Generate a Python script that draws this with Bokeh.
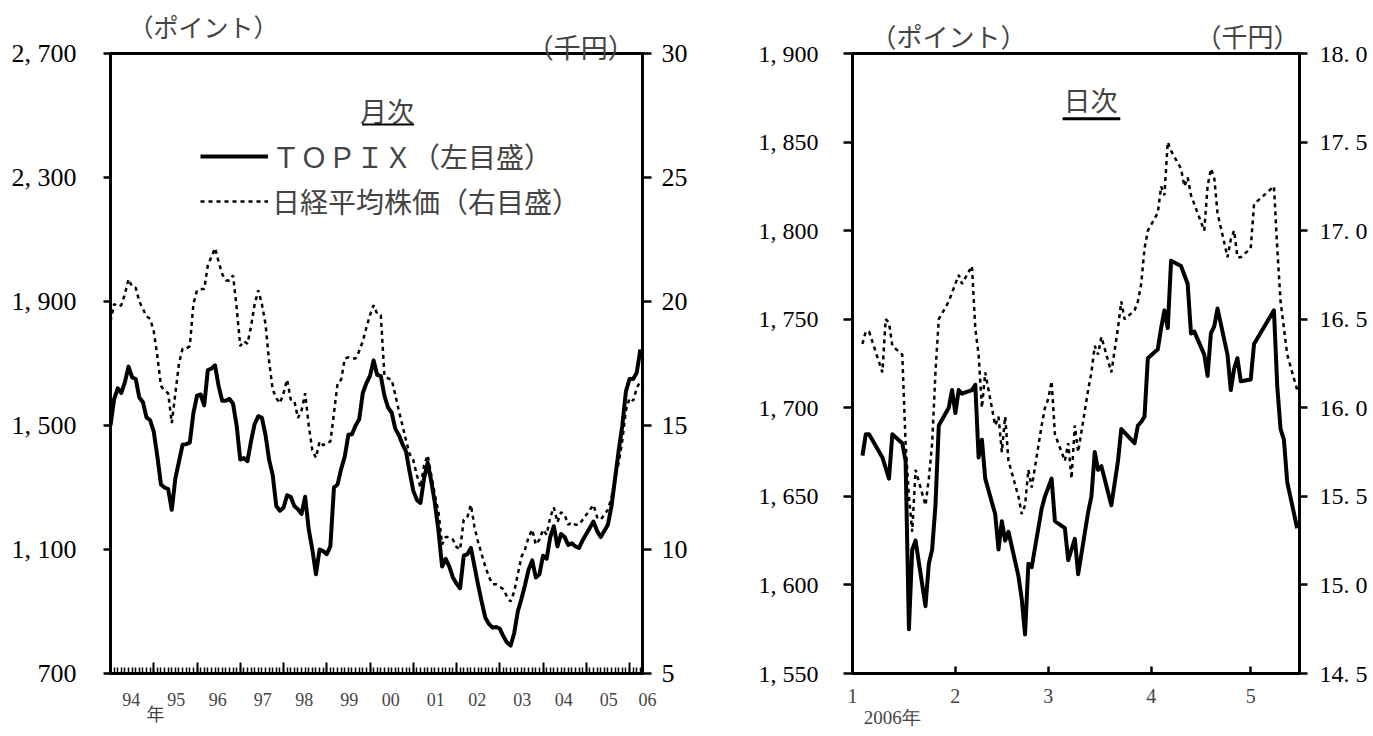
import datetime as dt
from bokeh.plotting import figure
from bokeh.models import (Range1d, LinearAxis, FixedTicker, Legend, LegendItem,
                          BoxAnnotation, ColumnDataSource, Label)
from bokeh.layouts import row
from bokeh.embed import file_html
from bokeh.resources import INLINE

# ---------------- data: monthly (Jan 1994 .. Apr 2006) ----------------
start_year = 1994
topix_monthly = [
    1500, 1585, 1620, 1605, 1640, 1690, 1655, 1650, 1590, 1575, 1526, 1517,
    1480, 1400, 1310, 1300, 1295, 1228, 1330, 1384, 1438, 1440, 1445, 1540,
    1596, 1600, 1565, 1678, 1684, 1694, 1627, 1580, 1580, 1586, 1570, 1500,
    1390, 1395, 1385, 1450, 1505, 1530, 1525, 1470, 1390, 1340, 1240, 1225,
    1235, 1275, 1270, 1240, 1230, 1215, 1270, 1165, 1100, 1020, 1100, 1095,
    1085, 1110, 1300, 1310, 1360, 1400, 1470, 1472, 1500, 1520, 1605, 1637,
    1660, 1710, 1663, 1659, 1596, 1558, 1542, 1490, 1469, 1440, 1416, 1350,
    1290, 1260, 1250, 1330, 1380, 1320, 1250, 1160, 1045, 1070, 1045, 1010,
    990, 975, 1080, 1085, 1105, 1045, 985, 930, 880, 860, 848, 850,
    845, 820, 800, 790, 830, 900, 940, 985, 1035, 1065, 1010, 1020,
    1080, 1070, 1140, 1175, 1110, 1150, 1140, 1115, 1120, 1110, 1105, 1130,
    1150, 1170, 1190, 1160, 1140, 1160, 1180, 1240, 1330, 1420, 1500, 1610,
    1650, 1650, 1670, 1745,
]
nikkei_monthly = [
    19.2, 19.9, 19.8, 19.85, 20.3, 20.9, 20.6, 20.55, 20.0, 19.7, 19.4, 19.3,
    18.8, 17.8, 16.6, 16.4, 16.3, 15.1, 16.3, 17.5, 18.1, 18.1, 18.2, 19.9,
    20.45, 20.5, 20.5, 21.45, 21.8, 22.15, 21.6, 21.1, 20.85, 20.85, 21.05, 19.75,
    18.2, 18.4, 18.3, 19.0, 19.9, 20.45, 19.9, 19.1, 17.6, 16.45, 16.1, 15.9,
    16.3, 16.85, 16.05, 16.0, 15.3, 15.6, 16.3, 15.0, 14.0, 13.7, 14.35, 14.2,
    14.3, 14.35, 15.5, 16.7, 16.85, 17.7, 17.75, 17.7, 17.7, 18.0, 18.4, 18.95,
    19.45, 19.85, 19.5, 19.45, 17.0, 16.9, 16.85, 16.25, 15.6, 15.0, 14.4, 13.85,
    13.6, 13.0, 12.5, 13.4, 13.8, 13.0, 12.2, 11.5, 10.2, 10.5, 10.5, 10.4,
    10.1, 10.0, 11.2, 11.3, 11.8, 10.9, 10.3, 9.8, 9.3, 8.9, 8.6, 8.6,
    8.5, 8.4, 8.1, 7.9, 8.3, 9.0, 9.7, 10.0, 10.5, 10.8, 10.2, 10.4,
    10.8, 10.6, 11.3, 11.7, 11.1, 11.5, 11.4, 11.0, 11.1, 11.0, 11.0, 11.2,
    11.4, 11.6, 11.8, 11.3, 11.2, 11.4, 11.6, 12.1, 12.9, 13.5, 14.4, 15.6,
    16.1, 16.0, 16.5, 16.8,
]
year_labels = ["94", "95", "96", "97", "98", "99", "00", "01", "02", "03", "04", "05", "06"]
left_ticks = [700, 1100, 1500, 1900, 2300, 2700]
left_tick_labels = ["700", "1, 100", "1, 500", "1, 900", "2, 300", "2, 700"]
right_ticks = [5, 10, 15, 20, 25, 30]

# ---------------- data: daily 2006 ----------------
daily_dates = [
    "01-04", "01-05", "01-06", "01-10", "01-11", "01-12", "01-13", "01-16", "01-17", "01-18",
    "01-19", "01-20", "01-23", "01-24", "01-25", "01-26", "01-27", "01-30", "01-31",
    "02-01", "02-02", "02-03", "02-06", "02-07", "02-08", "02-09", "02-10", "02-13", "02-14",
    "02-15", "02-16", "02-17", "02-20", "02-21", "02-22", "02-23", "02-24", "02-27", "02-28",
    "03-01", "03-02", "03-03", "03-06", "03-07", "03-08", "03-09", "03-10", "03-13", "03-14",
    "03-15", "03-16", "03-17", "03-20", "03-22", "03-23", "03-24", "03-27", "03-28", "03-29",
    "03-30", "03-31",
    "04-03", "04-04", "04-05", "04-06", "04-07", "04-10", "04-11", "04-12", "04-13", "04-14",
    "04-17", "04-18", "04-19", "04-20", "04-21", "04-24", "04-25", "04-26", "04-27", "04-28",
    "05-01", "05-02", "05-08", "05-09", "05-10", "05-11", "05-12", "05-15",
]
topix_daily = [
    1673, 1685, 1685, 1672, 1666, 1660, 1685, 1680, 1670, 1575,
    1620, 1625, 1588, 1612, 1620, 1645, 1690, 1700, 1710,
    1697, 1710, 1708, 1710, 1713, 1672, 1682, 1660, 1640, 1620,
    1636, 1625, 1630, 1605, 1592, 1572, 1612, 1610, 1643, 1650,
    1655, 1660, 1636, 1632, 1614, 1620, 1626, 1606, 1641, 1650,
    1675, 1665, 1667, 1645, 1670, 1688, 1686, 1680, 1690, 1692,
    1695, 1728,
    1733, 1745, 1755, 1745, 1783, 1780, 1775, 1770, 1742, 1743,
    1730, 1718, 1742, 1746, 1756, 1730, 1710, 1722, 1728, 1715,
    1716, 1736, 1755, 1712, 1688, 1682, 1658, 1632,
]
nikkei_daily = [
    16.36, 16.43, 16.43, 16.2, 16.5, 16.48, 16.35, 16.3, 15.8, 15.5,
    15.3, 15.65, 15.45, 15.6, 15.8, 16.2, 16.5, 16.6, 16.65,
    16.7, 16.75, 16.7, 16.8, 16.45, 16.3, 16.0, 16.2, 15.9, 15.95,
    15.75, 15.95, 15.7, 15.5, 15.4, 15.45, 15.65, 15.55, 15.9, 16.0,
    16.05, 16.15, 15.85, 15.7, 15.8, 15.6, 15.9, 15.75, 16.1, 16.2,
    16.35, 16.3, 16.4, 16.2, 16.45, 16.6, 16.5, 16.55, 16.6, 16.7,
    16.9, 17.0,
    17.1, 17.25, 17.2, 17.5, 17.45, 17.35, 17.25, 17.3, 17.2, 17.15,
    17.0, 17.25, 17.35, 17.3, 17.1, 16.85, 16.95, 17.0, 16.85, 16.85,
    16.9, 17.15, 17.25, 16.9, 16.6, 16.45, 16.3, 16.1,
]
month_tick_labels = ["1", "2", "3", "4", "5"]
d_left_ticks = [1550, 1600, 1650, 1700, 1750, 1800, 1850, 1900]
d_left_labels = ["1, 550", "1, 600", "1, 650", "1, 700", "1, 750", "1, 800", "1, 850", "1, 900"]
d_right_ticks = [14.5, 15.0, 15.5, 16.0, 16.5, 17.0, 17.5, 18.0]
d_right_labels = ["14. 5", "15. 0", "15. 5", "16. 0", "16. 5", "17. 0", "17. 5", "18. 0"]

SERIF = "Liberation Serif"
JP = "Noto Sans CJK JP"
FS = "\u2007"  # figure space (keeps label spacing in SVG)


def text_axis(ticks, labels, font, size, standoff, **kw):
    """An axis that only carries texts (no line, no ticks)."""
    ax = LinearAxis(ticker=FixedTicker(ticks=ticks),
                    major_label_overrides={t: s for t, s in zip(ticks, labels)}, **kw)
    ax.axis_line_color = None
    ax.major_tick_line_color = None
    ax.minor_tick_line_color = None
    ax.major_tick_in = 0
    ax.major_tick_out = 0
    ax.major_label_text_font = font
    ax.major_label_text_font_size = size
    ax.major_label_standoff = standoff
    return ax


def style_y(ax, size, out, standoff):
    ax.axis_line_width = 3
    ax.major_tick_line_width = 2.5
    ax.major_tick_in = 0
    ax.major_tick_out = out
    ax.minor_tick_line_color = None
    ax.major_label_text_font = SERIF
    ax.major_label_text_font_size = size
    ax.major_label_text_color = "black"
    ax.major_label_standoff = standoff


# ======================= LEFT: monthly =======================
n = len(topix_monthly)
mx = list(range(n))
src_m = ColumnDataSource(dict(x=mx, topix=topix_monthly, nikkei=nikkei_monthly))

p1 = figure(width=690, height=736, output_backend="svg", toolbar_location=None,
            x_range=Range1d(0, n - 0.4), y_range=Range1d(700, 2700),
            x_axis_type=None, y_axis_type=None,
            min_border_left=110, min_border_right=47, min_border_top=53, min_border_bottom=49)
p1.extra_y_ranges = {"nk": Range1d(5, 30)}
p1.grid.visible = False
p1.outline_line_color = "black"
p1.outline_line_width = 3
p1.background_fill_color = "white"
p1.border_fill_color = "white"

yl = LinearAxis(ticker=FixedTicker(ticks=left_ticks),
                major_label_overrides={t: s for t, s in zip(left_ticks, left_tick_labels)})
style_y(yl, "26px", 7, 27)
p1.add_layout(yl, "left")

yr = LinearAxis(y_range_name="nk", ticker=FixedTicker(ticks=right_ticks))
style_y(yr, "26px", 9, 10)
p1.add_layout(yr, "right")

# bottom axis: year boundaries (major, with paired year labels) + monthly minor ticks
year_ticks = [12 * k for k in range(1, (n - 1) // 12 + 1)]
year_lab = {t: "" for t in year_ticks}
for k in range(0, len(year_labels) - 1, 2):
    year_lab[12 * (k + 1)] = year_labels[k] + FS * 3 + year_labels[k + 1]
year_lab[12 * (len(year_labels) - 1)] = FS * 4 + year_labels[-1]
xa = LinearAxis(ticker=FixedTicker(ticks=year_ticks, minor_ticks=list(range(1, n))),
                major_label_overrides=year_lab)
xa.axis_line_width = 3
xa.major_tick_in = 11
xa.major_tick_out = 0
xa.major_tick_line_width = 2
xa.minor_tick_in = 6
xa.minor_tick_out = 0
xa.minor_tick_line_width = 1.5
xa.major_label_text_font = SERIF
xa.major_label_text_font_size = "18px"
xa.major_label_standoff = 16
p1.add_layout(xa, "below")
p1.add_layout(text_axis([12.5], ["年"], JP, "18px", -13), "below")

# unit captions above the frame
p1.add_layout(text_axis([130.5], ["（千円）"], JP, "27px", -12), "above")
p1.add_layout(text_axis([25.8], ["（ポイント）"], JP, "25px", -20), "above")

r1 = p1.line("x", "topix", source=src_m, line_color="black", line_width=4, line_join="round")
r2 = p1.line("x", "nikkei", source=src_m, y_range_name="nk", line_color="black",
             line_width=2.5, line_dash="4 4")

p1.add_layout(Label(x=76.7, y=2517, text="月次", text_font=JP,
                    text_font_size="27px", text_align="center", text_baseline="middle"))
p1.add_layout(BoxAnnotation(left=69.8, right=84.2, bottom=2468, top=2474,
                            fill_color="black", fill_alpha=1, line_color=None))

legend = Legend(items=[LegendItem(label="ＴＯＰＩＸ（左目盛）", renderers=[r1]),
                       LegendItem(label="日経平均株価（右目盛）", renderers=[r2])],
                location=(90, 452))
legend.border_line_color = None
legend.background_fill_alpha = 0
legend.padding = 0
legend.margin = 0
legend.spacing = 5
legend.glyph_width = 68
legend.glyph_height = 40
legend.label_height = 40
legend.label_standoff = 4
legend.label_text_font = JP
legend.label_text_font_size = "28px"
legend.label_text_baseline = "middle"
p1.add_layout(legend, "center")

# ======================= RIGHT: daily =======================
d0 = dt.date(2006, 1, 1)
dx = [(dt.date(2006, int(s[:2]), int(s[3:])) - d0).days for s in daily_dates]
src_d = ColumnDataSource(dict(x=dx, topix=topix_daily, nikkei=nikkei_daily))
month_ticks = [(dt.date(2006, m, 1) - d0).days for m in range(1, 6)]

p2 = figure(width=683, height=736, output_backend="svg", toolbar_location=None,
            x_range=Range1d(0, 134.7), y_range=Range1d(1550, 1900),
            x_axis_type=None, y_axis_type=None,
            min_border_left=162, min_border_right=74, min_border_top=50, min_border_bottom=63)
p2.extra_y_ranges = {"nk": Range1d(14.5, 18.0)}
p2.grid.visible = False
p2.outline_line_color = "black"
p2.outline_line_width = 3
p2.background_fill_color = "white"
p2.border_fill_color = "white"

yl2 = LinearAxis(ticker=FixedTicker(ticks=d_left_ticks),
                 major_label_overrides={t: s for t, s in zip(d_left_ticks, d_left_labels)})
style_y(yl2, "24px", 9, 25)
p2.add_layout(yl2, "left")

yr2 = LinearAxis(y_range_name="nk", ticker=FixedTicker(ticks=d_right_ticks),
                 major_label_overrides={t: s for t, s in zip(d_right_ticks, d_right_labels)})
style_y(yr2, "24px", 8, 12)
p2.add_layout(yr2, "right")

xa2 = LinearAxis(ticker=FixedTicker(ticks=month_ticks),
                 major_label_overrides={t: s for t, s in zip(month_ticks, month_tick_labels)})
xa2.axis_line_width = 3
xa2.major_tick_in = 7
xa2.major_tick_out = 0
xa2.major_tick_line_width = 2.5
xa2.minor_tick_line_color = None
xa2.major_label_text_font = SERIF
xa2.major_label_text_font_size = "20px"
xa2.major_label_standoff = 15
p2.add_layout(xa2, "below")
p2.add_layout(text_axis([12.0], ["2006年"], SERIF, "19px", 1), "below")

p2.add_layout(text_axis([28.9, 119], ["（ポイント）", "（千円）"], JP, "26px", 0), "above")

p2.line("x", "topix", source=src_d, line_color="black", line_width=4, line_join="round")
p2.line("x", "nikkei", source=src_d, y_range_name="nk", line_color="black",
        line_width=2.5, line_dash="4 4")

p2.add_layout(Label(x=71.7, y=1874, text="日次", text_font=JP,
                    text_font_size="27px", text_align="center", text_baseline="middle"))
p2.add_layout(BoxAnnotation(left=63.3, right=80.7, bottom=1862.3, top=1864.0,
                            fill_color="black", fill_alpha=1, line_color=None))

layout = row(p1, p2)
open("out.html", "w").write(file_html(layout, INLINE))
